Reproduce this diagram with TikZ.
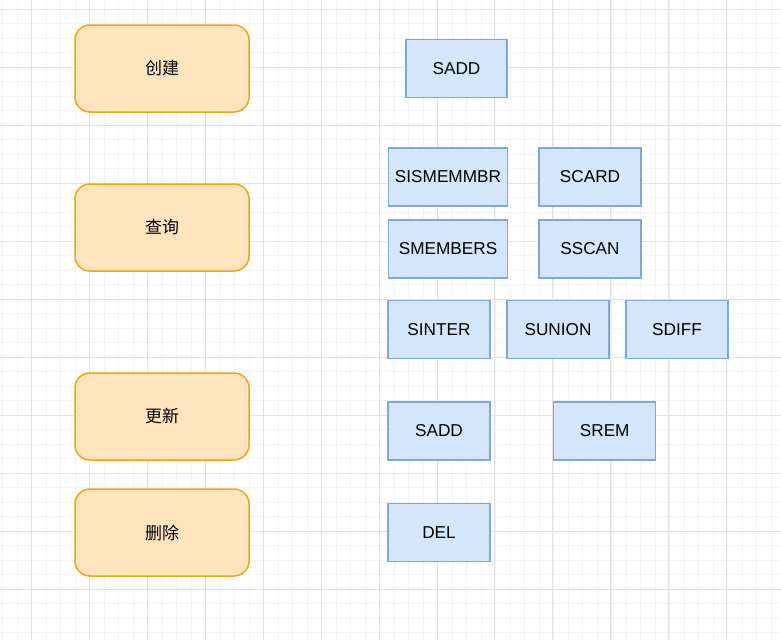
\documentclass[tikz,border=0pt]{standalone}
\usepackage{fontspec}
\setmainfont{Liberation Sans}
\newfontfamily\cjk{Noto Sans CJK SC}
\definecolor{ofill}{HTML}{FFE4BE}
\definecolor{odraw}{HTML}{F2A50E}
\definecolor{bfill}{HTML}{D4E6FC}
\definecolor{bdraw}{HTML}{7EA6E0}
\definecolor{gminor}{HTML}{F3F3F3}
\definecolor{gmajor}{HTML}{E2E2E2}
\tikzset{
  catbox/.style={draw=odraw, fill=ofill, line width=1.5pt, rounded corners=15pt,
    minimum width=174pt, minimum height=87pt, inner sep=0pt, font=\cjk\fontsize{17}{20}\selectfont},
  cmdbox/.style={draw=bdraw, fill=bfill, line width=1.5pt,
    minimum width=102pt, minimum height=58pt, inner sep=0pt, font=\fontsize{17.2}{20}\selectfont}
}
\begin{document}
\begin{tikzpicture}[x=1pt,y=-1pt]
\useasboundingbox (0,0) rectangle (781,640);
\fill[white] (0,0) rectangle (781,640);
% minor grid
\foreach \i in {0,...,54} {
  \draw[gminor, line width=1pt] ({2.7+14.5*\i},0) -- ({2.7+14.5*\i},640);
}
\foreach \i in {0,...,44} {
  \draw[gminor, line width=1pt] (0,{9.3+14.5*\i}) -- (781,{9.3+14.5*\i});
}
% major grid
\foreach \i in {0,...,13} {
  \draw[gmajor, line width=1pt] ({31.7+57.9*\i},0) -- ({31.7+57.9*\i},640);
}
\foreach \i in {0,...,11} {
  \draw[gmajor, line width=1pt] (0,{9.3+58*\i}) -- (781,{9.3+58*\i});
}
% category boxes
\node[catbox] (create) at (162,68.5) {创建};
\node[catbox] (query) at (162,227.5) {查询};
\node[catbox] (update) at (162,416.5) {更新};
\node[catbox] (delete) at (162,532.5) {删除};
% command boxes
\node[cmdbox, minimum width=101pt] (sadd1) at (456.5,68.5) {SADD};
\node[cmdbox, minimum width=119pt] (sismember) at (448,177) {SISMEMMBR};
\node[cmdbox] (scard) at (590,177) {SCARD};
\node[cmdbox, minimum width=119pt] (smembers) at (448,249) {SMEMBERS};
\node[cmdbox] (sscan) at (590,249) {SSCAN};
\node[cmdbox] (sinter) at (439,329.5) {SINTER};
\node[cmdbox] (sunion) at (558,329.5) {SUNION};
\node[cmdbox] (sdiff) at (677,329.5) {SDIFF};
\node[cmdbox] (sadd2) at (439,431) {SADD};
\node[cmdbox] (srem) at (604.7,431) {SREM};
\node[cmdbox] (del) at (439,532.5) {DEL};
\end{tikzpicture}
\end{document}
